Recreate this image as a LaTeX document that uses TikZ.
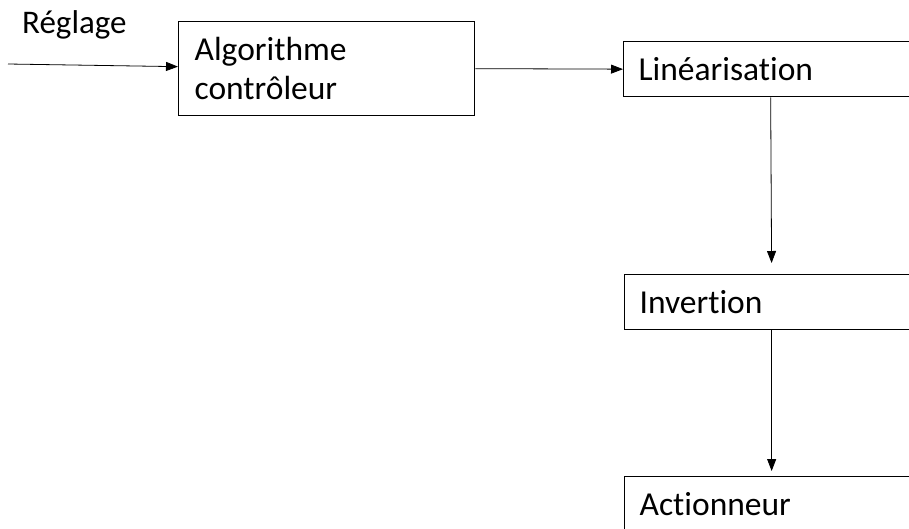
\documentclass[tikz,border=0pt]{standalone}
\usepackage{fontspec}
\setmainfont{Carlito}[Ligatures={NoCommon}]
\usetikzlibrary{arrows.meta}
\begin{document}
\begin{tikzpicture}[x=1pt,y=-1pt,
  bloc/.style={rectangle, draw, line width=1.3pt, inner xsep=15pt, inner ysep=0pt,
    minimum height=55pt, align=left, font=\fontsize{33.5}{39}\selectfont},
  fleche/.style={-{Triangle[length=12pt,width=9pt]}, line width=0.8pt}]
\clip (0,0) rectangle (909,528);
% blocs
\node[bloc, anchor=north west, text width=264pt, inner xsep=16pt, minimum height=94pt] (algo) at (178,21)
{Algorithme\\contrôleur};
\node[bloc, anchor=north west, text width=264pt] (lin) at (623,41) {Linéarisation};
\node[bloc, anchor=north west, text width=264pt] (inv) at (624,274) {Invertion};
\node[bloc, anchor=north west, text width=264pt] (act) at (624,476) {Actionneur};
% entree
\node[anchor=base west, inner sep=0pt, font=\fontsize{33}{39}\selectfont] (reg) at (22,33) {Réglage};
\coordinate (entree) at (8,64);
% liaisons
\draw[fleche] (entree) -- ([yshift=2pt]algo.west);
\draw[fleche] (algo.east) -- (lin.west);
\draw[fleche, shorten >=11pt] (lin.south) -- (inv.north);
\draw[fleche, shorten >=5pt] (inv.south) -- (act.north);
\end{tikzpicture}
\end{document}
